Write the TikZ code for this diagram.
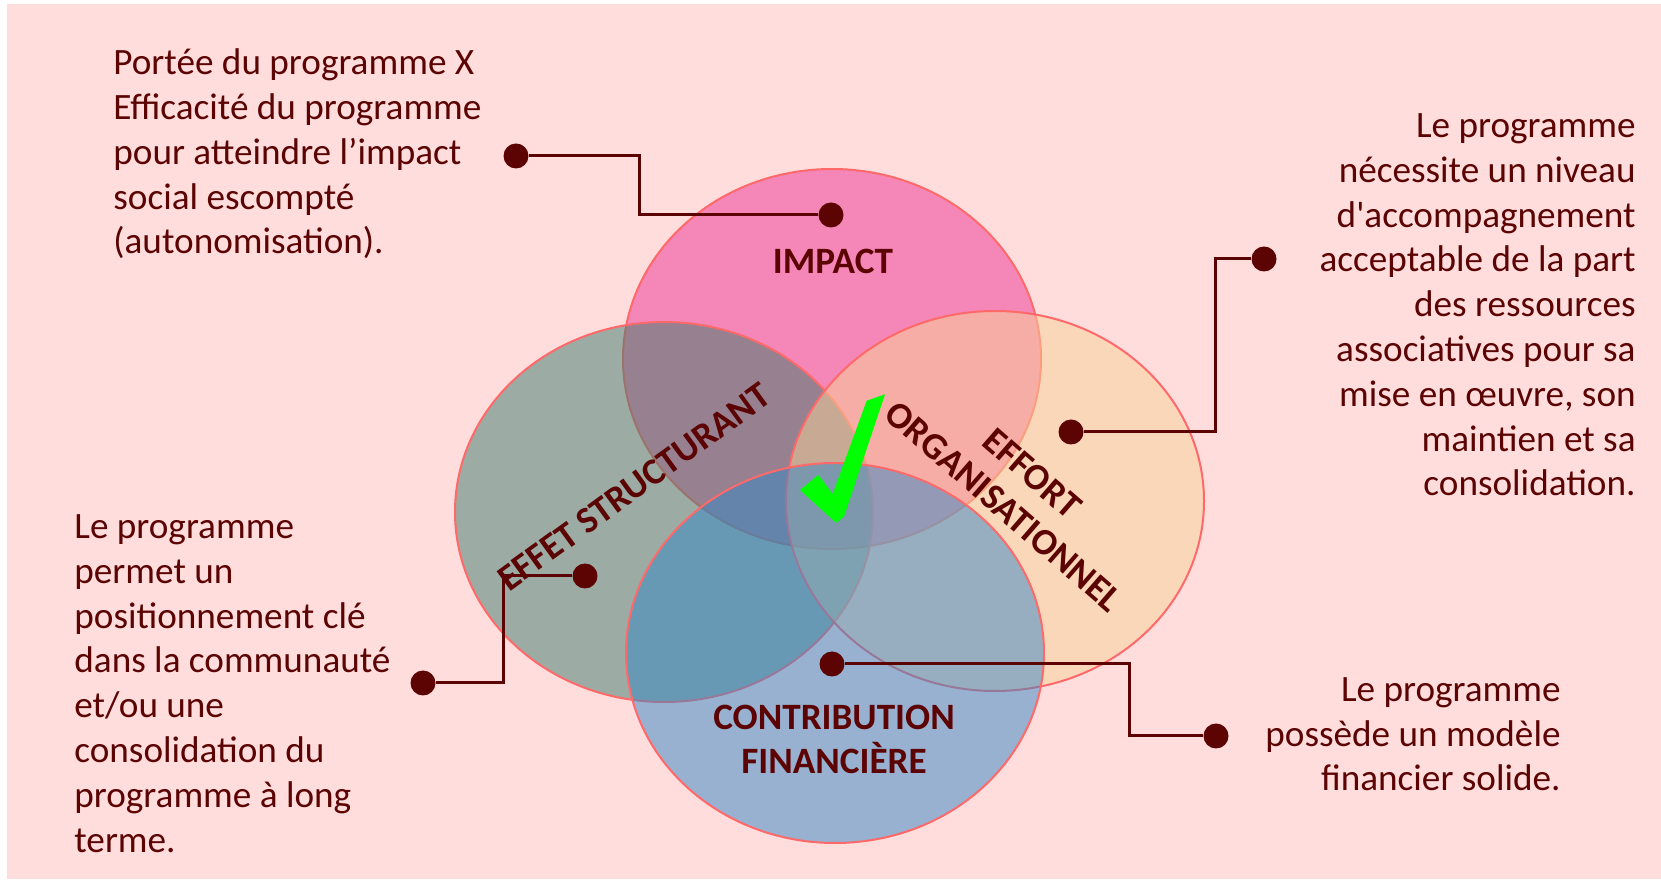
\documentclass[tikz,border=0pt]{standalone}
\usepackage{fontspec}
\setmainfont{Carlito}[Ligatures=TeXOff]
\usepackage{tikz}
\usepackage{xcolor}
\definecolor{bgpink}{RGB}{255,221,221}
\definecolor{impactc}{RGB}{235,51,147}
\definecolor{effetc}{RGB}{59,125,109}
\definecolor{effortc}{RGB}{249,211,151}
\definecolor{contribc}{RGB}{51,135,199}
\definecolor{rim}{RGB}{255,105,105}
\definecolor{maroon}{RGB}{92,4,4}
\definecolor{checkgreen}{RGB}{0,255,0}

\begin{document}
\begin{tikzpicture}[x=0.5pt, y=-0.5pt,
  circ/.style={draw=rim, line width=1pt, fill opacity=0.5},
  dot/.style={circle, fill=maroon, inner sep=0pt, minimum size=12.5pt},
  link/.style={draw=maroon, line width=1.5pt},
  note/.style={text=maroon, inner sep=0pt, font=\fontsize{18.6}{22.4}\selectfont},
  zone/.style={text=maroon, inner sep=0pt, align=center, font=\fontsize{18.6}{22}\selectfont\bfseries}]
\useasboundingbox (0,0) rectangle (1661,881);
\fill[white] (0,0) rectangle (1661,881);
\fill[bgpink] (7,4) rectangle (1661,879);

% the four sets
\path[circ, fill=impactc] (832,359) ellipse [x radius=209, y radius=190];
\path[circ, fill=effetc] (664,512) ellipse [x radius=209, y radius=190];
\path[circ, fill=effortc] (995,501) ellipse [x radius=209, y radius=190];
\path[circ, fill=contribc] (835,653) ellipse [x radius=209, y radius=190];

\node[zone] (impact) at (833,261) {IMPACT};
\node[zone, rotate=36] (effet) at (634,487) {EFFET STRUCTURANT};
\node[zone, rotate=-41] (effort) at (1018,490) {EFFORT\\ORGANISATIONNEL};
\node[zone] (contrib) at (834,739) {CONTRIBUTION\\FINANCIÈRE};

\fill[checkgreen] (800,490) -- (818.3,475) -- (832.7,494) -- (866.7,400.7)
  -- (885,394.3) -- (844,516.7) -- (836,522.7) -- cycle;

% notes (base = last line)
\node[note, anchor=base west, align=left] (impnote) at (113,254)
  {Portée du programme X\\Efficacité du programme\\pour atteindre l’impact\\social escompté\\(autonomisation).};
\node[note, anchor=base east, align=right] (effortnote) at (1636,496)
  {Le programme\\nécessite un niveau\\d'accompagnement\\acceptable de la part\\des ressources\\associatives pour sa\\mise en œuvre, son\\maintien et sa\\consolidation.};
\node[note, anchor=base west, align=left] (effetnote) at (74,852)
  {Le programme\\permet un\\positionnement clé\\dans la communauté\\et/ou une\\consolidation du\\programme à long\\terme.};
\node[note, anchor=base east, align=right] (contribnote) at (1561,791)
  {Le programme\\possède un modèle\\financier solide.};

% connectors
\node[dot] (impout) at (516,156) {};
\node[dot] (impin) at (831,215) {};
\coordinate (impbend) at (639,215);
\draw[link] (impout) -| (impbend) -- (impin);

\node[dot] (effortout) at (1264,259) {};
\node[dot] (effortin) at (1071,432) {};
\coordinate (effortbend) at (1215,432);
\draw[link] (effortout) -| (effortbend) -- (effortin);

\node[dot] (effetout) at (423,683) {};
\node[dot] (effetin) at (585,576) {};
\coordinate (effetbend) at (503,576);
\draw[link] (effetout) -| (effetbend) -- (effetin);

\node[dot] (contribin) at (832,664) {};
\node[dot] (contribout) at (1216,736) {};
\coordinate (contribbend) at (1129,736);
\draw[link] (contribin) -| (contribbend) -- (contribout);
\end{tikzpicture}
\end{document}
